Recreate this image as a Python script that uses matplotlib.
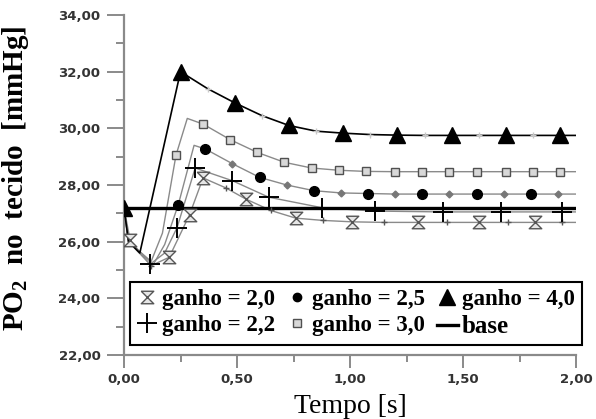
import matplotlib
matplotlib.use("Agg")
import matplotlib.pyplot as plt
from matplotlib.lines import Line2D
from matplotlib.ticker import MultipleLocator, FuncFormatter

# ganho = 4,0
t40 = [0.00, 0.02, 0.07, 0.25, 0.37, 0.49, 0.61, 0.73, 0.85, 0.97, 1.09, 1.21, 1.33, 1.45, 1.57, 1.69, 1.81, 1.93, 2.00]
y40 = [27.2, 26.0, 25.6, 32.0, 31.4, 30.9, 30.45, 30.1, 29.9, 29.83, 29.78, 29.76, 29.75, 29.75, 29.75, 29.75, 29.75, 29.75, 29.75]
big40 = [0, 3, 5, 7, 9, 11, 13, 15, 17]
small40 = [4, 6, 8, 10, 12, 14, 16]

# ganho = 3,0
t30 = [0.00, 0.02, 0.12, 0.17, 0.23, 0.28, 0.35, 0.47, 0.59, 0.71, 0.83, 0.95, 1.07, 1.20, 1.32, 1.44, 1.56, 1.69, 1.81, 1.93, 2.00]
y30 = [27.2, 26.0, 25.3, 26.3, 29.05, 30.35, 30.15, 29.6, 29.15, 28.8, 28.6, 28.52, 28.48, 28.47, 28.47, 28.47, 28.47, 28.47, 28.47, 28.47, 28.47]
big30 = [4, 6, 7, 8, 9, 10, 11, 12, 13, 14, 15, 16, 17, 18, 19]

# ganho = 2,5
t25 = [0.00, 0.02, 0.13, 0.18, 0.24, 0.31, 0.36, 0.48, 0.60, 0.72, 0.84, 0.96, 1.08, 1.20, 1.32, 1.44, 1.56, 1.68, 1.80, 1.92, 2.00]
y25 = [27.2, 26.0, 25.2, 25.9, 27.3, 29.4, 29.27, 28.75, 28.27, 28.0, 27.8, 27.72, 27.7, 27.68, 27.68, 27.68, 27.68, 27.68, 27.68, 27.68, 27.68]
big25 = [4, 6, 8, 10, 12, 14, 16, 18]
small25 = [7, 9, 11, 13, 15, 17, 19]

# ganho = 2,2
t22 = [0.00, 0.02, 0.115, 0.18, 0.235, 0.315, 0.48, 0.64, 0.875, 1.11, 1.41, 1.67, 1.94, 2.00]
y22 = [27.2, 26.0, 25.2, 25.6, 26.5, 28.6, 28.15, 27.57, 27.2, 27.08, 27.05, 27.05, 27.05, 27.05]
big22 = [2, 4, 5, 6, 7, 8, 9, 10, 11, 12]

# ganho = 2,0
t20 = [0.00, 0.027, 0.12, 0.20, 0.29, 0.35, 0.45, 0.54, 0.65, 0.76, 0.88, 1.01, 1.15, 1.30, 1.43, 1.57, 1.70, 1.82, 1.94, 2.00]
y20 = [27.2, 26.05, 25.15, 25.45, 26.95, 28.25, 27.9, 27.5, 27.1, 26.83, 26.75, 26.7, 26.68, 26.68, 26.68, 26.68, 26.68, 26.68, 26.68, 26.68]
big20 = [1, 3, 4, 5, 7, 9, 11, 13, 15, 17]
small20 = [2, 6, 8, 10, 12, 14, 16, 18]

# base
tb = [0.0, 2.0]
yb = [27.2, 27.2]

labels = ['ganho = 2,0', 'ganho = 2,2', 'ganho = 2,5', 'ganho = 3,0', 'ganho = 4,0', 'base']

hourglass = [(-1, 1), (1, 1), (-1, -1), (1, -1), (-1, 1)]
serif = 'Liberation Serif'
grey = '#8a8a8a'

fig = plt.figure(figsize=(5.96, 4.19), dpi=100)
ax = fig.add_axes([124 / 596, 64 / 419, 452 / 596, 340 / 419])

# lines
ax.plot(t20, y20, color=grey, lw=1.0, zorder=2)
ax.plot(t22, y22, color=grey, lw=1.0, zorder=2)
ax.plot(t25, y25, color=grey, lw=1.0, zorder=2)
ax.plot(t30, y30, color=grey, lw=1.0, zorder=2)
ax.plot(t40, y40, color='black', lw=1.2, zorder=3)
ax.plot(tb, yb, color='black', lw=2.4, zorder=4)

# small intermediate markers
ax.plot(t40, y40, ls='none', marker='+', ms=5, color='#c8c8c8', markevery=small40, zorder=5)
ax.plot(t25, y25, ls='none', marker='D', ms=3.5, color='#777777', markevery=small25, zorder=5)
ax.plot(t20, y20, ls='none', marker='+', ms=4, mew=1.0, color='#555555', markevery=small20, zorder=5)

# main markers
ax.plot(t20, y20, ls='none', marker=hourglass, ms=9, mfc='#e6e6e6', mec='#555555', mew=1.0, markevery=big20, zorder=6)
ax.plot(t22, y22, ls='none', marker='+', ms=14, mew=1.4, color='black', markevery=big22, zorder=6)
ax.plot(t25, y25, ls='none', marker='o', ms=7, color='black', markevery=big25, zorder=6)
ax.plot(t30, y30, ls='none', marker='s', ms=6, mfc='#d8d8d8', mec='#505050', mew=1.0, markevery=big30, zorder=6)
ax.plot(t40, y40, ls='none', marker='^', ms=12, color='black', markevery=big40, zorder=7)

ax.set_xlim(0, 2)
ax.set_ylim(22, 34)
ax.xaxis.set_major_locator(MultipleLocator(0.5))
ax.xaxis.set_minor_locator(MultipleLocator(0.25))
ax.yaxis.set_major_locator(MultipleLocator(2))
ax.yaxis.set_minor_locator(MultipleLocator(1))
comma = FuncFormatter(lambda v, p: ('%.2f' % v).replace('.', ','))
ax.xaxis.set_major_formatter(comma)
ax.yaxis.set_major_formatter(comma)

for s in ['top', 'right']:
    ax.spines[s].set_visible(False)
for s in ['left', 'bottom']:
    ax.spines[s].set_color(grey)
    ax.spines[s].set_linewidth(1.6)

ax.tick_params(axis='x', which='major', length=9, width=1.4, color=grey, pad=4)
ax.tick_params(axis='x', which='minor', length=5, width=1.4, color=grey)
ax.tick_params(axis='y', which='major', length=12, width=1.4, color=grey, pad=5)
ax.tick_params(axis='y', which='minor', length=6, width=1.4, color=grey)
for lab in ax.get_xticklabels() + ax.get_yticklabels():
    lab.set_fontfamily('DejaVu Sans')
    lab.set_fontweight('bold')
    lab.set_fontsize(9.5)
    lab.set_color('#333333')

plt.rcParams['mathtext.default'] = 'regular'
ax.set_ylabel('$\\mathregular{PO_2}$  no  tecido  [mmHg]', fontfamily=serif, fontweight='bold', fontsize=21)
ax.yaxis.set_label_coords(-0.205, 0.52)
ax.set_xlabel('Tempo [s]', fontfamily=serif, fontsize=20, labelpad=6)

handles = [
    Line2D([], [], ls='none', marker=hourglass, ms=9, mfc='#e6e6e6', mec='#555555', mew=1.0),
    Line2D([], [], ls='none', marker='+', ms=14, mew=1.4, color='black'),
    Line2D([], [], ls='none', marker='o', ms=6, color='black'),
    Line2D([], [], ls='none', marker='s', ms=6, mfc='#d8d8d8', mec='#505050', mew=1.0),
    Line2D([], [], ls='none', marker='^', ms=12, color='black'),
    Line2D([], [], color='black', lw=2.4),
]
leg = ax.legend(handles, labels, ncol=3, loc='lower left', bbox_to_anchor=(0.013, 0.03, 1.0, 0.2),
                mode='expand', prop={'family': serif, 'weight': 'bold', 'size': 16.5},
                handlelength=0.9, handletextpad=0.2, columnspacing=0.3, labelspacing=0.2,
                borderpad=0.3, borderaxespad=0.0, fancybox=False, framealpha=1.0, edgecolor='black')
leg.get_frame().set_linewidth(1.5)
leg.get_texts()[-1].set_fontsize(18)

fig.savefig('out.png', dpi=100)
